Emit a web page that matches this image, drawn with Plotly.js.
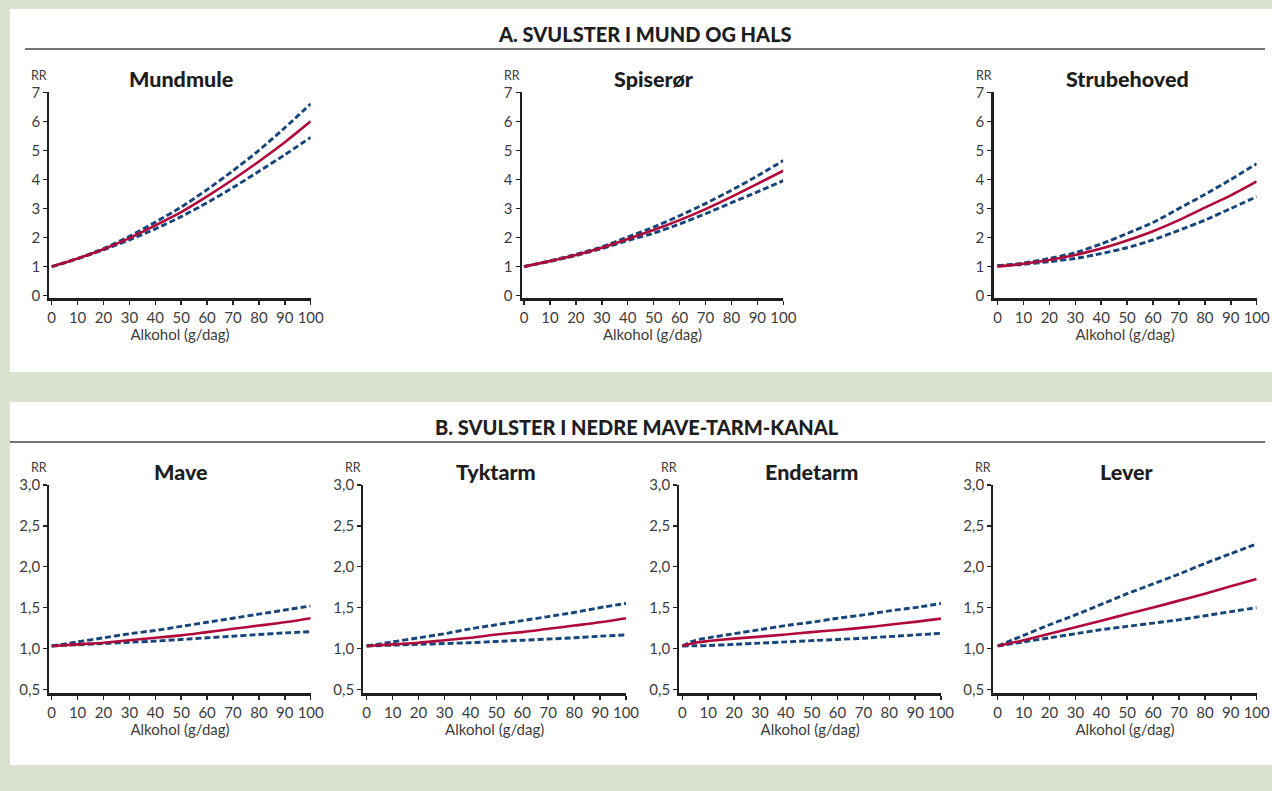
<!DOCTYPE html>
<html>
<head>
<meta charset="utf-8">
<script src="https://cdn.plot.ly/plotly-3.0.1.min.js"></script>
<style>
  html, body { margin: 0; padding: 0; background: #d9e2cf; }
  #chart { width: 1272px; height: 791px; }
</style>
</head>
<body>
<div id="chart"></div>
<script>
// ---------- DATA ----------
const alcohol = [0, 10, 20, 30, 40, 50, 60, 70, 80, 90, 100];
const alcoholEndetarm = [0, 5, 10, 20, 30, 40, 50, 60, 70, 80, 90, 100];

const sectionTitles = ["A. SVULSTER I MUND OG HALS", "B. SVULSTER I NEDRE MAVE-TARM-KANAL"];
const panelNames = ["Mundmule", "Spiserør", "Strubehoved", "Mave", "Tyktarm", "Endetarm", "Lever"];
const yLabel = "RR";
const xLabel = "Alkohol (g/dag)";

const topTicks = [0, 1, 2, 3, 4, 5, 6, 7];
const bottomTicks = [0.5, 1.0, 1.5, 2.0, 2.5, 3.0];
const xTicks = [0, 10, 20, 30, 40, 50, 60, 70, 80, 90, 100];

// Mundmule
const mundmuleRR    = [1.00, 1.28, 1.60, 1.98, 2.42, 2.88, 3.42, 4.00, 4.62, 5.28, 6.00];
const mundmuleUpper = [1.00, 1.28, 1.62, 2.04, 2.53, 3.05, 3.65, 4.30, 5.00, 5.78, 6.60];
const mundmuleLower = [1.00, 1.27, 1.58, 1.92, 2.30, 2.72, 3.20, 3.72, 4.28, 4.85, 5.45];
// Spiserør
const spiserorRR    = [1.00, 1.19, 1.40, 1.65, 1.95, 2.26, 2.60, 2.98, 3.40, 3.85, 4.30];
const spiserorUpper = [1.00, 1.20, 1.42, 1.68, 2.02, 2.36, 2.75, 3.17, 3.63, 4.12, 4.65];
const spiserorLower = [1.00, 1.18, 1.38, 1.62, 1.90, 2.15, 2.47, 2.82, 3.20, 3.57, 3.96];
// Strubehoved
const strubeRR    = [1.00, 1.10, 1.23, 1.40, 1.62, 1.90, 2.22, 2.60, 3.03, 3.45, 3.93];
const strubeUpper = [1.03, 1.12, 1.28, 1.48, 1.78, 2.14, 2.52, 3.00, 3.48, 4.00, 4.54];
const strubeLower = [1.03, 1.08, 1.17, 1.28, 1.45, 1.65, 1.92, 2.25, 2.60, 3.00, 3.41];
// Mave
const maveRR    = [1.03, 1.05, 1.07, 1.10, 1.13, 1.16, 1.20, 1.24, 1.28, 1.32, 1.37];
const maveUpper = [1.03, 1.08, 1.13, 1.18, 1.22, 1.27, 1.32, 1.37, 1.42, 1.47, 1.52];
const maveLower = [1.03, 1.045, 1.06, 1.075, 1.09, 1.11, 1.13, 1.15, 1.17, 1.19, 1.205];
// Tyktarm
const tyktarmRR    = [1.03, 1.05, 1.07, 1.10, 1.13, 1.17, 1.20, 1.24, 1.28, 1.32, 1.37];
const tyktarmUpper = [1.03, 1.08, 1.13, 1.18, 1.24, 1.29, 1.34, 1.39, 1.44, 1.50, 1.55];
const tyktarmLower = [1.03, 1.04, 1.05, 1.06, 1.07, 1.085, 1.10, 1.115, 1.13, 1.15, 1.165];
// Endetarm (own x grid)
const endetarmRR    = [1.03, 1.07, 1.09, 1.12, 1.145, 1.17, 1.20, 1.225, 1.255, 1.29, 1.325, 1.365];
const endetarmUpper = [1.03, 1.10, 1.13, 1.18, 1.23, 1.28, 1.32, 1.37, 1.41, 1.46, 1.50, 1.55];
const endetarmLower = [1.03, 1.032, 1.035, 1.05, 1.065, 1.08, 1.095, 1.11, 1.125, 1.145, 1.165, 1.185];
// Lever
const leverRR    = [1.03, 1.10, 1.18, 1.26, 1.34, 1.42, 1.50, 1.585, 1.67, 1.76, 1.85];
const leverUpper = [1.03, 1.16, 1.29, 1.41, 1.54, 1.67, 1.79, 1.91, 2.04, 2.16, 2.28];
const leverLower = [1.03, 1.08, 1.13, 1.18, 1.23, 1.27, 1.31, 1.35, 1.40, 1.45, 1.50];

// ---------- LAYOUT HELPERS ----------
const W = 1272, H = 791;
const px = v => v / W;
const py = v => 1 - v / H;

const RED = "#b10a3a";
const BLUE = "#16457b";
const FONT = "Lato, 'Open Sans', sans-serif";

// panel geometry in pixels: axis line x, x at 0, x at 100
const panels = [
  { name: panelNames[0], x: alcohol, rr: mundmuleRR, up: mundmuleUpper, lo: mundmuleLower, ax: 49.3, x0: 51.7, x100: 310.7, row: 0 },
  { name: panelNames[1], x: alcohol, rr: spiserorRR, up: spiserorUpper, lo: spiserorLower, ax: 521.7, x0: 524.0, x100: 783.3, row: 0 },
  { name: panelNames[2], x: alcohol, rr: strubeRR, up: strubeUpper, lo: strubeLower, ax: 993.5, x0: 997.5, x100: 1256.7, row: 0 },
  { name: panelNames[3], x: alcohol, rr: maveRR, up: maveUpper, lo: maveLower, ax: 49.3, x0: 51.7, x100: 310.7, row: 1 },
  { name: panelNames[4], x: alcohol, rr: tyktarmRR, up: tyktarmUpper, lo: tyktarmLower, ax: 363.3, x0: 366.7, x100: 626.0, row: 1 },
  { name: panelNames[5], x: alcoholEndetarm, rr: endetarmRR, up: endetarmUpper, lo: endetarmLower, ax: 679.3, x0: 682.3, x100: 941.0, row: 1 },
  { name: panelNames[6], x: alcohol, rr: leverRR, up: leverUpper, lo: leverLower, ax: 993.3, x0: 997.7, x100: 1256.7, row: 1 }
];

const rows = [
  { top: 92.3, bottom: 298.3, range: [-0.09, 7], ticks: topTicks, fmt: "d", titleY: 79, rrY: 75 },
  { top: 485.0, bottom: 693.3, range: [0.451, 3.0], ticks: bottomTicks, fmt: ".1f", titleY: 472, rrY: 467 }
];

const traces = [];
const layout = {
  width: W, height: H,
  margin: { l: 0, r: 0, t: 0, b: 0, pad: 0 },
  paper_bgcolor: "#d9e2cf",
  plot_bgcolor: "rgba(0,0,0,0)",
  showlegend: false,
  separators: ",.",
  font: { family: FONT, color: "#3c3c3c" },
  shapes: [
    { type: "rect", xref: "paper", yref: "paper", x0: px(10), x1: 1, y0: py(372), y1: py(9), fillcolor: "#ffffff", line: { width: 0 }, layer: "below" },
    { type: "rect", xref: "paper", yref: "paper", x0: px(10), x1: 1, y0: py(765), y1: py(402), fillcolor: "#ffffff", line: { width: 0 }, layer: "below" },
    { type: "line", xref: "paper", yref: "paper", x0: px(25), x1: px(1265), y0: py(49), y1: py(49), line: { color: "#444444", width: 1.6 } },
    { type: "line", xref: "paper", yref: "paper", x0: px(10), x1: px(1265), y0: py(442), y1: py(442), line: { color: "#444444", width: 1.6 } }
  ],
  annotations: [
    { text: sectionTitles[0], xref: "paper", yref: "paper", x: px(645), y: py(34), xanchor: "center", yanchor: "middle", showarrow: false, font: { family: FONT, size: 20, weight: 900, color: "#1e1e1e" } },
    { text: sectionTitles[1], xref: "paper", yref: "paper", x: px(637), y: py(427), xanchor: "center", yanchor: "middle", showarrow: false, font: { family: FONT, size: 20, weight: 900, color: "#1e1e1e" } }
  ]
};

panels.forEach((p, i) => {
  const n = i + 1;
  const xa = n === 1 ? "x" : "x" + n;
  const ya = n === 1 ? "y" : "y" + n;
  const xk = n === 1 ? "xaxis" : "xaxis" + n;
  const yk = n === 1 ? "yaxis" : "yaxis" + n;
  const r = rows[p.row];
  const perUnit = (p.x100 - p.x0) / 100;
  const xmin = -(p.x0 - p.ax) / perUnit;

  layout[xk] = {
    domain: [px(p.ax), px(p.x100)],
    range: [xmin, 100],
    anchor: ya,
    tickvals: xTicks,
    ticks: "outside", ticklen: 4, tickwidth: 1.5, tickcolor: "#222",
    showline: true, linewidth: 2.2, linecolor: "#1f1f1f",
    showgrid: false, zeroline: false, fixedrange: true,
    tickfont: { family: FONT, size: 15, color: "#3c3c3c" },
    title: { text: xLabel, font: { family: FONT, size: 15, color: "#3c3c3c" }, standoff: 3 }
  };
  layout[yk] = {
    domain: [py(r.bottom), py(r.top)],
    range: r.range,
    anchor: xa,
    tickvals: r.ticks,
    tickformat: r.fmt,
    ticks: "outside", ticklen: 4, tickwidth: 1.5, tickcolor: "#222",
    showline: true, linewidth: 2.2, linecolor: "#1f1f1f",
    showgrid: false, zeroline: false, fixedrange: true,
    tickfont: { family: FONT, size: 15, color: "#3c3c3c" }
  };

  layout.annotations.push({
    text: p.name, xref: "paper", yref: "paper",
    x: px((p.x0 + p.x100) / 2), y: py(r.titleY), xanchor: "center", yanchor: "middle",
    showarrow: false, font: { family: FONT, size: 21.5, weight: 900, color: "#1e1e1e" }
  });
  layout.annotations.push({
    text: yLabel, xref: "paper", yref: "paper",
    x: px(p.ax), y: py(r.rrY), xanchor: "right", yanchor: "middle",
    showarrow: false, font: { family: FONT, size: 12.5, color: "#3c3c3c" }
  });

  const dashed = { color: BLUE, width: 2.9, dash: "6px,3px", shape: "spline", smoothing: 0.6 };
  traces.push({ x: p.x, y: p.up, type: "scatter", mode: "lines", xaxis: xa, yaxis: ya, line: dashed, hoverinfo: "skip", name: p.name + " øvre" });
  traces.push({ x: p.x, y: p.lo, type: "scatter", mode: "lines", xaxis: xa, yaxis: ya, line: dashed, hoverinfo: "skip", name: p.name + " nedre" });
  traces.push({ x: p.x, y: p.rr, type: "scatter", mode: "lines", xaxis: xa, yaxis: ya, line: { color: RED, width: 2.6, shape: "spline", smoothing: 0.6 }, hoverinfo: "skip", name: p.name + " RR" });
});

Plotly.newPlot("chart", traces, layout, { displayModeBar: false, staticPlot: true });
</script>
</body>
</html>
